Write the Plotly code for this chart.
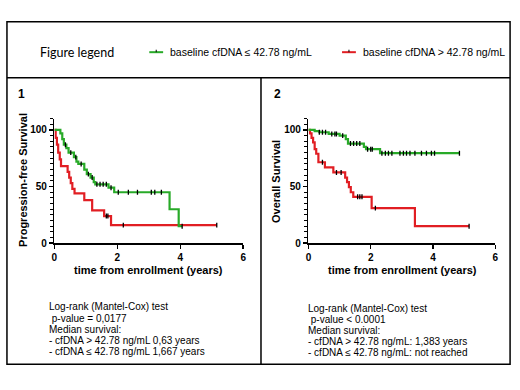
import plotly.graph_objects as go
import numpy as np

W, H = 520, 390
GREEN = "rgb(40,170,40)"
RED = "rgb(225,30,35)"

# ---------------- data ----------------
# Panel 1: progression-free survival
pfs_low_t = [0, 0.19, 0.25, 0.30, 0.38, 0.45, 0.62, 0.70, 0.76, 0.95, 1.03, 1.15, 1.25, 1.30, 1.72, 1.90, 3.66, 3.95, 4.06]
pfs_low_s = [100, 97, 92, 87, 84, 80, 76, 72, 70, 65, 61, 58, 54, 52, 49, 45, 30, 15, 15]
pfs_low_cens = [0.35, 0.52, 0.68, 0.85, 1.08, 1.2, 1.35, 1.45, 1.55, 1.65, 1.8, 2.03, 2.35, 2.64, 3.08, 3.19, 3.40, 4.06]

pfs_high_t = [0, 0.04, 0.08, 0.12, 0.17, 0.21, 0.42, 0.47, 0.52, 0.57, 0.64, 0.95, 1.20, 1.58, 1.80, 5.16]
pfs_high_s = [100, 93, 87, 80, 74, 68, 63, 58, 53, 48, 44, 38, 29, 24, 16, 16]
pfs_high_cens = [1.65, 1.70, 2.19, 5.16]

# Panel 2: overall survival
os_low_t = [0, 0.20, 0.35, 0.65, 1.00, 1.20, 1.27, 1.78, 1.85, 2.30, 4.85]
os_low_s = [100, 99, 98, 96.5, 95, 92, 88, 85, 83, 79.5, 79.5]
os_low_cens = [0.35, 0.45, 0.55, 0.75, 0.85, 0.9, 1.1, 1.35, 1.45, 1.55, 1.65, 1.9, 2.0, 2.05,
               2.36, 2.47, 2.57, 2.68, 2.94, 3.05, 3.15, 3.26, 3.42, 3.63, 3.79, 3.95, 4.05, 4.85]

os_high_t = [0, 0.05, 0.10, 0.15, 0.20, 0.25, 0.32, 0.53, 0.80, 1.18, 1.24, 1.30, 1.36, 1.44, 2.03, 3.42, 5.16]
os_high_s = [100, 97, 93, 89, 83, 79, 71.5, 67, 62.5, 58, 54, 49.5, 45, 41, 31, 15, 15]
os_high_cens = [0.45, 0.90, 1.05, 1.58, 1.65, 1.72, 2.15, 5.16]

x_ticks = [0, 2, 4, 6]
y_ticks = [0, 50, 100]

legend_low = "baseline cfDNA ≤ 42.78 ng/mL"
legend_high = "baseline cfDNA > 42.78 ng/mL"

text1 = ["Log-rank (Mantel-Cox) test", " p-value = 0,0177", "Median survival:",
         "- cfDNA > 42.78 ng/mL 0,63 years", "- cfDNA ≤ 42.78 ng/mL 1,667 years"]
text2 = ["Log-rank (Mantel-Cox) test", " p-value < 0.0001", "Median survival:",
         "- cfDNA > 42.78 ng/mL: 1,383 years", "- cfDNA ≤ 42.78 ng/mL: not reached"]


def step_value(t_list, s_list, t):
    t_arr = np.array(t_list)
    idx = np.searchsorted(t_arr, t, side="right") - 1
    return [s_list[i] for i in idx]


def px(x):
    return x / W


def py(y):
    return 1 - y / H


fig = go.Figure()

series = [
    ("x", "y", pfs_high_t, pfs_high_s, pfs_high_cens, RED),
    ("x", "y", pfs_low_t, pfs_low_s, pfs_low_cens, GREEN),
    ("x2", "y2", os_high_t, os_high_s, os_high_cens, RED),
    ("x2", "y2", os_low_t, os_low_s, os_low_cens, GREEN),
]
for xa, ya, t, s, c, col in series:
    fig.add_trace(go.Scatter(x=t, y=s, mode="lines", line=dict(color=col, width=2.2, shape="hv"),
                             xaxis=xa, yaxis=ya, hoverinfo="skip"))
    fig.add_trace(go.Scatter(x=c, y=step_value(t, s, c), mode="markers",
                             marker=dict(symbol="line-ns", size=3.5, line=dict(color="black", width=1.3)),
                             xaxis=xa, yaxis=ya, hoverinfo="skip"))

axis_common = dict(showline=True, linecolor="black", linewidth=1.5, showgrid=False, zeroline=False,
                   ticks="outside", ticklen=4, tickwidth=1.5, tickcolor="black",
                   tickfont=dict(family="Liberation Sans, Arial", size=10, color="black", weight="bold"))
xaxis_common = dict(axis_common, range=[0, 6], tickvals=x_ticks)
yaxis_common = dict(axis_common, range=[0, 110], tickvals=y_ticks,
                    minor=dict(dtick=5, tick0=0, ticks="outside", ticklen=2.5, tickwidth=1, tickcolor="black"))

ydom = [py(247), py(120.5)]
fig.update_layout(
    width=W, height=H, margin=dict(l=0, r=0, t=0, b=0),
    paper_bgcolor="white", plot_bgcolor="white", showlegend=False,
    xaxis=dict(xaxis_common, domain=[px(52), px(243)], anchor="y"),
    yaxis=dict(yaxis_common, domain=ydom, anchor="x"),
    xaxis2=dict(xaxis_common, domain=[px(309), px(498)], anchor="y2"),
    yaxis2=dict(yaxis_common, domain=ydom, anchor="x2"),
)

# boxes
shapes = [
    dict(type="rect", xref="paper", yref="paper", x0=px(4), x1=px(513), y0=py(370), y1=py(22),
         line=dict(color="black", width=1.5)),
    dict(type="line", xref="paper", yref="paper", x0=px(4), x1=px(513), y0=py(79), y1=py(79),
         line=dict(color="black", width=1.5)),
    dict(type="line", xref="paper", yref="paper", x0=px(261), x1=px(261), y0=py(79), y1=py(370),
         line=dict(color="black", width=1.5)),
]
# legend symbols
for x0, col in [(148, GREEN), (343, RED)]:
    shapes.append(dict(type="line", xref="paper", yref="paper", x0=px(x0), x1=px(x0 + 14), y0=py(53), y1=py(53),
                       line=dict(color=col, width=2)))
    shapes.append(dict(type="line", xref="paper", yref="paper", x0=px(x0 + 7), x1=px(x0 + 7), y0=py(53), y1=py(50.5),
                       line=dict(color="black", width=1)))
fig.update_layout(shapes=shapes)

ann = []


def add_text(x, y, text, size=10, family="Liberation Sans, Arial", bold=False, anchor="left", angle=0):
    ann.append(dict(x=px(x), y=py(y), xref="paper", yref="paper", text=text, showarrow=False,
                    xanchor=anchor, yanchor="middle", textangle=angle,
                    font=dict(family=family, size=size, color="black", weight="bold" if bold else "normal")))


add_text(35, 53, "Figure legend", size=12.5, family="Lato, Carlito, sans-serif")
add_text(167, 53, legend_low, size=10.5, family="Liberation Sans, Arial")
add_text(362, 53, legend_high, size=10.5, family="Liberation Sans, Arial")

add_text(13, 95, "1", size=12, bold=True)
add_text(272, 95, "2", size=12, bold=True)

add_text(20, 183, "Progression-free Survival", size=11, bold=True, anchor="center", angle=-90)
add_text(276, 184, "Overall Survival", size=11, bold=True, anchor="center", angle=-90)
add_text(147.5, 274, "time from enrollment (years)", size=11, bold=True, anchor="center")
add_text(404, 274, "time from enrollment (years)", size=11, bold=True, anchor="center")

ys1 = [311.7, 323.3, 334.5, 345.8, 357.3]
ys2 = [313.3, 324.5, 335.5, 346.8, 357.8]
for y, t in zip(ys1, text1):
    add_text(45, y, t.replace(" ", "&nbsp;", 1) if t.startswith(" ") else t, size=10)
for y, t in zip(ys2, text2):
    add_text(306.5, y, t.replace(" ", "&nbsp;", 1) if t.startswith(" ") else t, size=10)

fig.update_layout(annotations=ann)
fig.write_html("out.html", config={"displayModeBar": False, "staticPlot": True},
               post_script="document.body.style.margin='0';document.body.style.overflow='hidden';")
